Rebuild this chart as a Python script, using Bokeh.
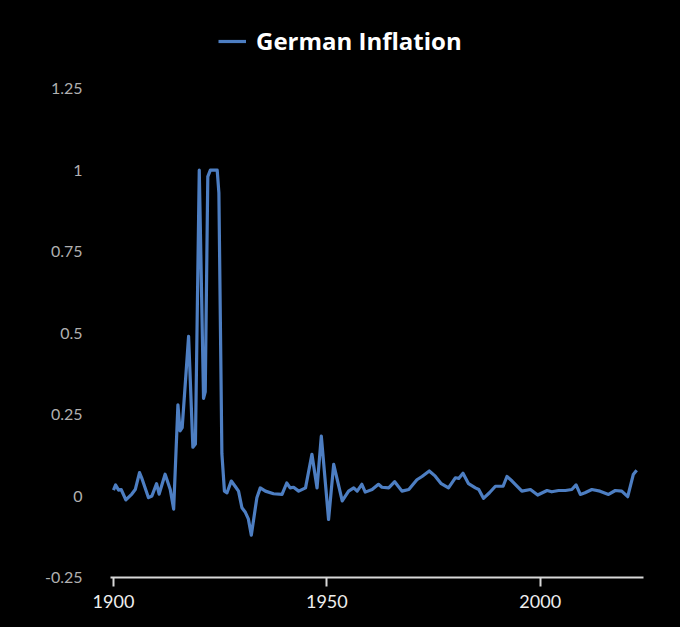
from bokeh.plotting import figure
from bokeh.models import Range1d, FixedTicker, Legend, LegendItem
from bokeh.embed import file_html
from bokeh.resources import INLINE

years = [1900.0, 1900.5, 1901.2, 1901.8, 1902.9, 1904.3, 1905.1, 1906.1, 1906.6, 1908.2,
         1909.0, 1910.1, 1910.7, 1912.1, 1913.3, 1914.1, 1915.1, 1915.6, 1916.1, 1917.6,
         1918.6, 1919.2, 1920.1, 1921.1, 1921.5, 1922.1, 1922.7, 1924.3, 1924.7, 1925.4,
         1926.0, 1926.6, 1927.6, 1928.5, 1929.3, 1930.1, 1930.9, 1931.6, 1932.3, 1933.6,
         1934.4, 1935.6, 1937.5, 1939.5, 1940.6, 1941.4, 1942.2, 1943.4, 1945.0, 1946.5,
         1947.7, 1948.7, 1950.4, 1951.6, 1953.6, 1955.1, 1956.3, 1957.1, 1958.2, 1959.0,
         1960.6, 1962.1, 1962.9, 1964.5, 1965.9, 1967.6, 1969.2, 1971.1, 1972.3, 1974.0,
         1975.4, 1976.8, 1978.5, 1980.1, 1980.9, 1981.9, 1983.2, 1984.8, 1985.6, 1986.7,
         1988.1, 1989.5, 1991.3, 1992.2, 1993.4, 1995.7, 1997.7, 1999.4, 2001.6, 2002.7,
         2004.3, 2005.9, 2007.4, 2008.4, 2009.4, 2010.5, 2012.1, 2014.0, 2016.0, 2017.6,
         2019.1, 2020.5, 2021.8, 2022.6]
inflation = [0.018, 0.034, 0.018, 0.020, -0.012, 0.006, 0.020, 0.072, 0.056, -0.005,
             0.000, 0.038, 0.006, 0.067, 0.020, -0.040, 0.280, 0.200, 0.210, 0.490,
             0.150, 0.160, 1.000, 0.300, 0.320, 0.980, 1.000, 1.000, 0.930, 0.130,
             0.015, 0.010, 0.046, 0.030, 0.015, -0.036, -0.050, -0.070, -0.120, -0.005,
             0.025, 0.015, 0.007, 0.005, 0.040, 0.025, 0.027, 0.015, 0.025, 0.128,
             0.025, 0.184, -0.072, 0.097, -0.015, 0.015, 0.025, 0.015, 0.036, 0.012,
             0.020, 0.036, 0.027, 0.025, 0.044, 0.015, 0.020, 0.050, 0.060, 0.077,
             0.061, 0.038, 0.025, 0.056, 0.054, 0.070, 0.038, 0.025, 0.020, -0.007,
             0.010, 0.030, 0.030, 0.060, 0.046, 0.015, 0.020, 0.003, 0.017, 0.013,
             0.017, 0.017, 0.020, 0.034, 0.005, 0.010, 0.020, 0.015, 0.005, 0.017,
             0.015, -0.002, 0.066, 0.079]

series_name = "German Inflation"
y_ticks = [-0.25, 0, 0.25, 0.5, 0.75, 1, 1.25]
y_tick_labels = ["-0.25", "0", "0.25", "0.5", "0.75", "1", "1.25"]
x_ticks = [1900, 1950, 2000]

p = figure(width=680, height=627, output_backend="svg", toolbar_location=None,
           x_range=Range1d(1899.3, 2024.2), y_range=Range1d(-0.25, 1.49),
           background_fill_color="black", border_fill_color="black",
           outline_line_color=None,
           min_border_left=110, min_border_right=37, min_border_top=10, min_border_bottom=50)
p.styles = {"background-color": "black"}
p.grid.visible = False

r = p.line(years, inflation, line_color="#4d7ec2", line_width=3.2, line_join="round")

p.yaxis.ticker = FixedTicker(ticks=y_ticks)
p.yaxis.major_label_overrides = {t: l for t, l in zip(y_ticks, y_tick_labels)}
p.yaxis.axis_line_color = None
p.yaxis.major_tick_line_color = None
p.yaxis.minor_tick_line_color = None
p.yaxis.major_tick_out = 0
p.yaxis.major_tick_in = 0
p.yaxis.major_label_standoff = 28
p.yaxis.major_label_text_color = "#b0b0b0"
p.yaxis.major_label_text_font = "Lato"
p.yaxis.major_label_text_font_size = "16px"
p.yaxis.major_label_text_font_style = "normal"

p.xaxis.ticker = FixedTicker(ticks=x_ticks)
p.xaxis.axis_line_color = "#d8d8d8"
p.xaxis.axis_line_width = 2
p.xaxis.major_tick_line_color = "#d8d8d8"
p.xaxis.major_tick_line_width = 2
p.xaxis.major_tick_out = 9
p.xaxis.major_tick_in = 0
p.xaxis.minor_tick_line_color = None
p.xaxis.major_label_standoff = 8
p.xaxis.major_label_text_color = "#eeeeee"
p.xaxis.major_label_text_font = "Lato"
p.xaxis.major_label_text_font_size = "18px"

legend = Legend(items=[LegendItem(label=series_name, renderers=[r])],
                location=(108, 520), orientation="horizontal",
                background_fill_alpha=0, border_line_color=None,
                label_text_color="white", label_text_font="Open Sans",
                label_text_font_style="bold", label_text_font_size="24px",
                glyph_width=28, glyph_height=20, label_standoff=10,
                margin=0, padding=0)
p.add_layout(legend, "center")

open("out.html", "w").write(file_html(p, INLINE))
